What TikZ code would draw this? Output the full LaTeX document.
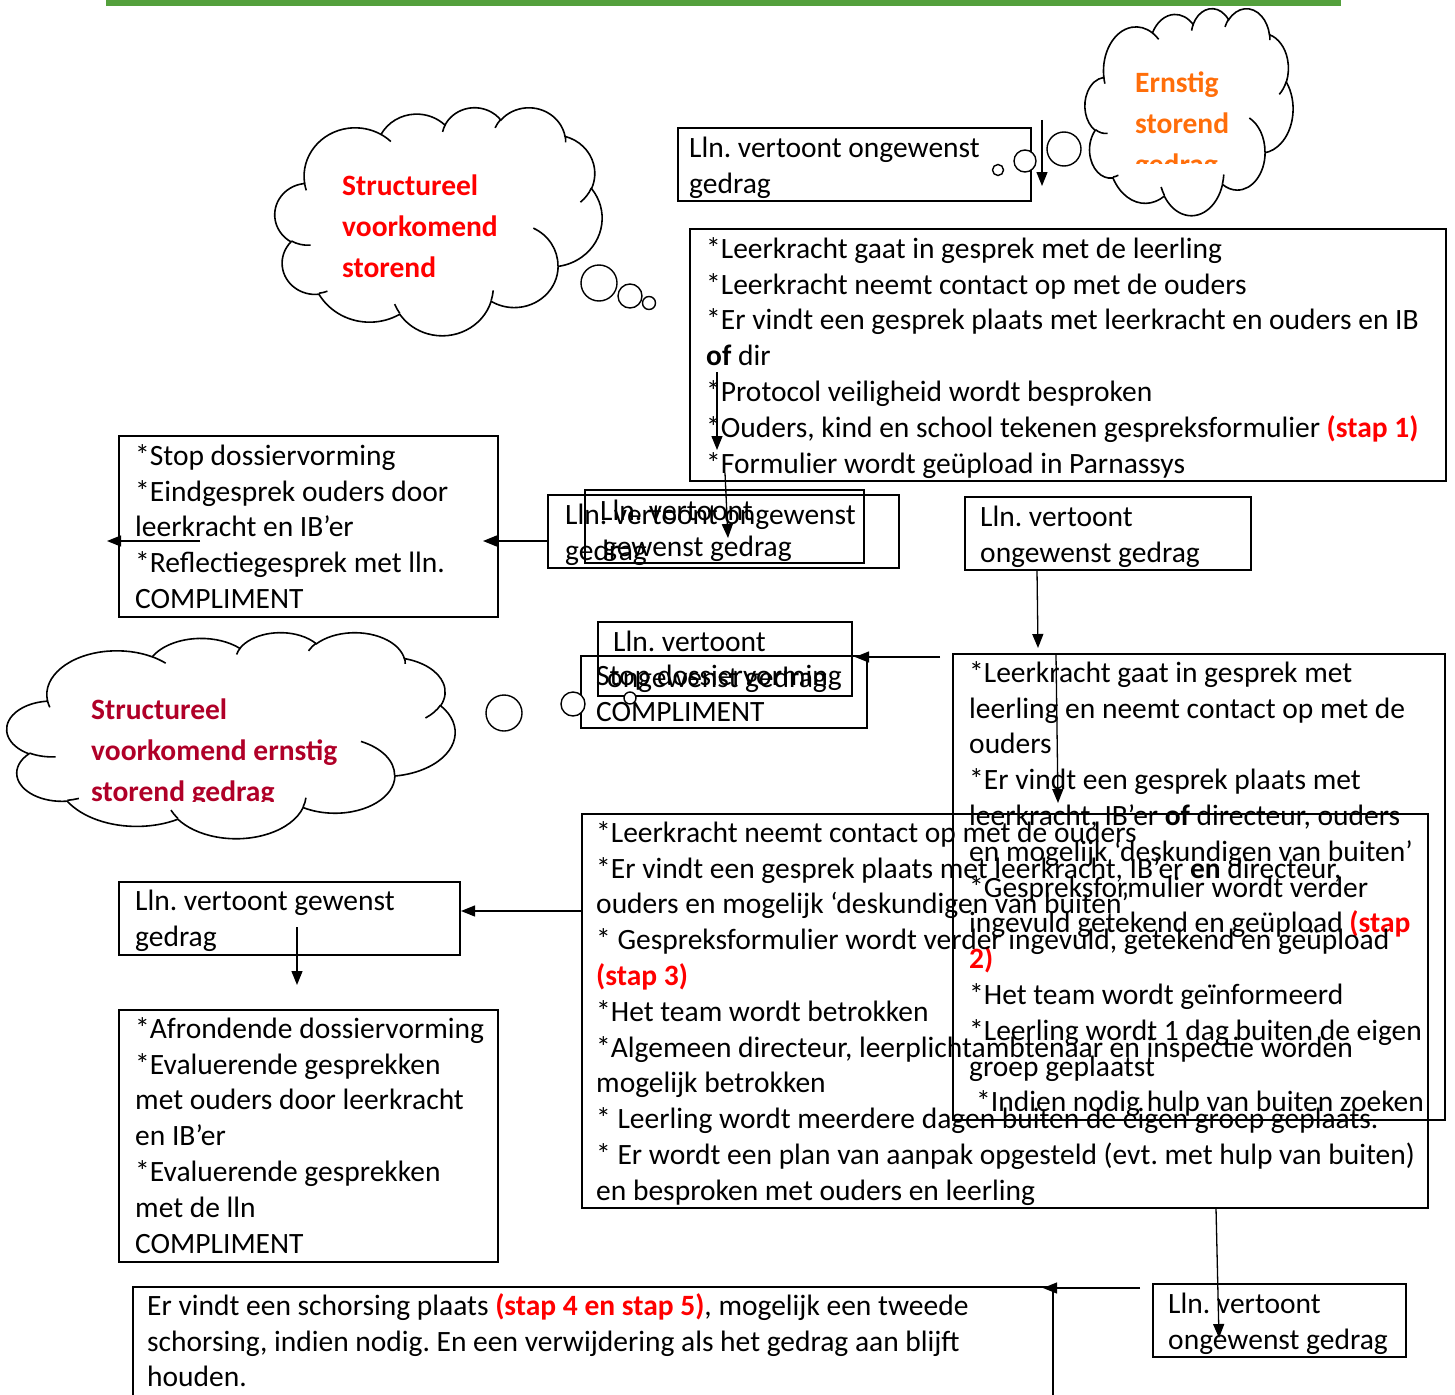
\documentclass[tikz,border=0pt]{standalone}
\usepackage{fontspec}
\setmainfont{Carlito}
\usetikzlibrary{arrows.meta}
\definecolor{barGreen}{RGB}{84,160,60}
\definecolor{stapRed}{RGB}{255,0,0}
\definecolor{cloudOrange}{RGB}{255,110,10}
\definecolor{cloudCrimson}{RGB}{176,0,40}
\frenchspacing
% parametric angles for an OOXML-style arcTo (wR, hR, visual start, sweep)
\newcommand\cldcalc[4]{%
  \pgfmathparse{atan2(sin(#3)*#1, cos(#3)*#2)}\xdef\cldTs{\pgfmathresult}%
  \pgfmathparse{atan2(sin(#3+#4)*#1, cos(#3+#4)*#2)}\xdef\cldTe{\pgfmathresult}%
  \pgfmathparse{\cldTe-\cldTs}\let\cldTmp\pgfmathresult
  \pgfmathparse{\cldTmp-360*round((\cldTmp-(#4))/360)}\xdef\cldD{\pgfmathresult}%
}
\newcommand\cldseg[4]{\pgfextra{\cldcalc{#1}{#2}{#3}{#4}} arc[start angle=\cldTs, delta angle=\cldD, x radius=#1, y radius=#2]}
% thought cloud: #1,#2 top-left corner, #3,#4 scale of the 432x432 frame
\newcommand\wordcloud[4]{%
\begin{scope}[shift={(#1,#2)}, x=1pt, y=1pt, xscale=#3, yscale=-#4, line width=1.6pt]
\draw[fill=white] (39.00,143.70)
 \cldseg{67.53}{91.90}{-190.4875}{123.7805}
 \cldseg{53.33}{72.67}{-144.1024}{89.9452}
 \cldseg{43.65}{59.45}{-145.8079}{99.7230}
 \cldseg{48.57}{65.95}{-130.9861}{117.2417}
 \cldseg{53.33}{72.73}{-78.7089}{109.0269}
 \cldseg{67.75}{92.20}{-46.2673}{130.2690}
 \cldseg{57.85}{78.67}{0.6250}{114.0333}
 \cldseg{67.52}{92.15}{22.4516}{115.1726}
 \cldseg{77.20}{105.43}{66.2426}{75.7110}
 \cldseg{43.60}{59.18}{-274.9421}{146.7356}
 \cldseg{43.45}{59.45}{-246.8285}{152.5189} -- cycle;
\draw (46.93,261.77) \cldseg{43.45}{59.45}{86.7420}{26.4295}
 (69.28,348.99) \cldseg{43.60}{59.18}{73.6105}{11.4475}
 (164.78,390.90) \cldseg{67.52}{92.15}{137.6242}{14.0811}
 (288.27,347.51) \cldseg{67.52}{92.15}{6.4533}{15.9984}
 (341.29,229.54) \cldseg{57.85}{78.67}{-70.2924}{70.9174}
 (417.98,153.54) \cldseg{53.33}{72.73}{30.3180}{27.7515}
 (383.24,54.26) \cldseg{48.57}{65.95}{-13.7443}{14.8589}
 (290.78,39.52) \cldseg{48.57}{65.95}{-149.1815}{18.1954}
 (221.41,47.20) \cldseg{43.65}{59.45}{-163.4943}{17.6864}
 (140.00,51.92) \cldseg{67.53}{91.90}{-66.7070}{12.3194}
 (41.27,157.89) \cldseg{67.53}{91.90}{157.6544}{11.8582};
\end{scope}}
\begin{document}
\begin{tikzpicture}[x=1pt,y=-1pt,
  box/.style={draw, line width=1.6pt, anchor=north west, inner sep=0pt, outer sep=0pt},
  txt/.style={anchor=north west, inner sep=0pt, align=left, font=\fontsize{29.5}{35.8}\selectfont},
  ctxt/.style={anchor=north west, inner sep=0pt, align=left, font=\bfseries\fontsize{29.5}{41}\selectfont},
  bubble/.style={circle, draw, line width=1.4pt, fill=white, inner sep=0pt},
  arr/.style={line width=1.3pt, -{Triangle[length=14pt,width=11pt]}}]
\useasboundingbox (0,0) rectangle (1455,1394);
\fill[barGreen] (106,0) rectangle (1341,6);

% clouds
\wordcloud{275}{107}{0.75694}{0.52778}
\wordcloud{1085}{8}{0.48148}{0.47917}
\wordcloud{7}{632}{1.03704}{0.47685}

% boxes
\node[box, minimum width=353pt, minimum height=73pt] (A) at (678,128) {};
\node[box, minimum width=756pt, minimum height=252pt] (B) at (690,229) {};
\node[box, minimum width=351pt, minimum height=73pt] (C) at (548,495) {};
\node[box, minimum width=279pt, minimum height=73pt] (D) at (585,490) {};
\node[box, minimum width=379pt, minimum height=181pt] (E) at (119,436) {};
\node[box, minimum width=286pt, minimum height=73pt] (F) at (965,497) {};
\node[box, minimum width=492pt, minimum height=466pt] (G) at (953,654) {};
\node[box, minimum width=254pt, minimum height=74pt] (H) at (598,622) {};
\node[box, minimum width=286pt, minimum height=72pt] (I) at (581,656) {};
\node[box, minimum width=846pt, minimum height=394pt] (J) at (582,814) {};
\node[box, minimum width=341pt, minimum height=73pt] (K) at (119,882) {};
\node[box, minimum width=379pt, minimum height=252pt] (L) at (119,1010) {};
\node[box, minimum width=920pt, minimum height=123pt] (M) at (133,1287) {};
\node[box, minimum width=253pt, minimum height=73pt] (N) at (1153,1284) {};

% thought bubbles
\node[bubble, minimum size=36pt] (bA1) at (599,283) {};
\node[bubble, minimum size=24pt] (bA2) at (630,296) {};
\node[bubble, minimum size=13pt] (bA3) at (649,303) {};
\node[bubble, minimum size=34pt] (bB1) at (1064,149) {};
\node[bubble, minimum size=22pt] (bB2) at (1025,161) {};
\node[bubble, minimum size=11pt] (bB3) at (998,170) {};
\node[bubble, minimum size=36pt] (bC1) at (504,713) {};
\node[bubble, minimum size=24pt] (bC2) at (573,704) {};
\node[bubble, minimum size=12pt] (bC3) at (630,698) {};

% cloud texts
\node[ctxt, text=stapRed] (tA) at (342,166.3) {\strut Structureel\\voorkomend\\storend};
\begin{scope}
\clip (1085,0) rectangle (1300,163);
\node[ctxt, text=cloudOrange] (tB) at (1135,63.3) {\strut Ernstig\\storend\\gedrag};
\end{scope}
\begin{scope}
\clip (0,600) rectangle (460,801);
\node[ctxt, text=cloudCrimson] (tC) at (91,690.3) {\strut Structureel\\voorkomend ernstig\\storend gedrag};
\end{scope}

% box texts
\node[txt] (tAbox) at (689,132) {\strut Lln. vertoont ongewenst\\gedrag};
\node[txt] (tBbox) at (706,233) {\strut *Leerkracht gaat in gesprek met de leerling\\
*Leerkracht neemt contact op met de ouders\\
*Er vindt een gesprek plaats met leerkracht en ouders en IB\\
\textbf{of} dir\\
*Protocol veiligheid wordt besproken\\
*Ouders, kind en school tekenen gespreksformulier \textcolor{stapRed}{\textbf{(stap 1)}}\\
*Formulier wordt geüpload in Parnassys};
\node[txt] (tCbox) at (565,499) {\strut Lln. vertoont ongewenst\\gedrag};
\node[txt] (tDbox) at (600,495) {\strut Lln. vertoont\\\hspace*{3pt}gewenst gedrag};
\node[txt] (tEbox) at (135,440) {\strut *Stop dossiervorming\\
*Eindgesprek ouders door\\
leerkracht en IB’er\\
*Reflectiegesprek met lln.\\
COMPLIMENT};
\node[txt] (tFbox) at (980,501) {\strut Lln. vertoont\\ongewenst gedrag};
\node[txt] (tGbox) at (969,657) {\strut *Leerkracht gaat in gesprek met\\
leerling en neemt contact op met de\\
ouders\\
*Er vindt een gesprek plaats met\\
leerkracht, IB’er \textbf{of} directeur, ouders\\
en mogelijk ‘deskundigen van buiten’\\
*Gespreksformulier wordt verder\\
ingevuld getekend en geüpload \textcolor{stapRed}{\textbf{(stap}}\\
\textcolor{stapRed}{\textbf{2)}}\\
*Het team wordt geïnformeerd\\
*Leerling wordt 1 dag buiten de eigen\\
groep geplaatst\\
\hspace*{7pt}*Indien nodig hulp van buiten zoeken};
\node[txt] (tHbox) at (613,626) {\strut Lln. vertoont\\\hspace*{-6pt}ongewenst gedrag};
\node[txt] (tIbox) at (596,660) {\strut Stop dossiervorming\\COMPLIMENT};
\node[txt] (tJbox) at (596,817) {\strut *Leerkracht neemt contact op met de ouders\\
*Er vindt een gesprek plaats met leerkracht, IB’er \textbf{en} directeur,\\
ouders en mogelijk ‘deskundigen van buiten’\\
* Gespreksformulier wordt verder ingevuld, getekend en geüpload\\
\textcolor{stapRed}{\textbf{(stap 3)}}\\
*Het team wordt betrokken\\
*Algemeen directeur, leerplichtambtenaar en inspectie worden\\
mogelijk betrokken\\
* Leerling wordt meerdere dagen buiten de eigen groep geplaats.\\
* Er wordt een plan van aanpak opgesteld (evt. met hulp van buiten)\\
en besproken met ouders en leerling};
\node[txt] (tKbox) at (135,885) {\strut Lln. vertoont gewenst\\gedrag};
\node[txt] (tLbox) at (135,1013) {\strut *Afrondende dossiervorming\\
*Evaluerende gesprekken\\
met ouders door leerkracht\\
en IB’er\\
*Evaluerende gesprekken\\
met de lln\\
COMPLIMENT};
\node[txt] (tMbox) at (147,1290) {\strut Er vindt een schorsing plaats \textcolor{stapRed}{\textbf{(stap 4 en stap 5)}}, mogelijk een tweede\\
schorsing, indien nodig. En een verwijdering als het gedrag aan blijft\\
houden.};
\node[txt] (tNbox) at (1168,1288) {\strut Lln. vertoont\\ongewenst gedrag};

% free connector ends
\coordinate (a1s) at (1042,120);
\coordinate (a1e) at (1042,186);
\coordinate (a2s) at (717,372);
\coordinate (a2e) at (717,450);
\coordinate (a3s) at (725,473);
\coordinate (a3e) at (728,538);
\coordinate (a4e) at (483,541);
\coordinate (a5s) at (200,541);
\coordinate (a5e) at (107,541);
\coordinate (a6s) at (1037,570);
\coordinate (a6e) at (1038,648);
\coordinate (a7s) at (940,657);
\coordinate (a7e) at (855,657);
\coordinate (a8s) at (1056,655);
\coordinate (a8e) at (1058,803);
\coordinate (a9e) at (461,911);
\coordinate (a10s) at (297,927);
\coordinate (a10e) at (297,985);
\coordinate (a11s) at (1216,1208);
\coordinate (a11e) at (1219,1338);
\coordinate (a12s) at (1140,1288);
\coordinate (a12e) at (1043,1288);

% connectors
\draw[arr] (a1s) -- (a1e);
\draw[arr] (a2s) -- (a2e);
\draw[arr] (a3s) -- (a3e);
\draw[arr] (C.west |- a4e) -- (a4e);
\draw[arr] (a5s) -- (a5e);
\draw[arr] (a6s) -- (a6e);
\draw[arr] (a7s) -- (a7e);
\draw[arr] (a8s) -- (a8e);
\draw[arr] (J.west |- a9e) -- (a9e);
\draw[arr] (a10s) -- (a10e);
\draw[arr] (a11s) -- (a11e);
\draw[arr] (a12s) -- (a12e);
\end{tikzpicture}
\end{document}
